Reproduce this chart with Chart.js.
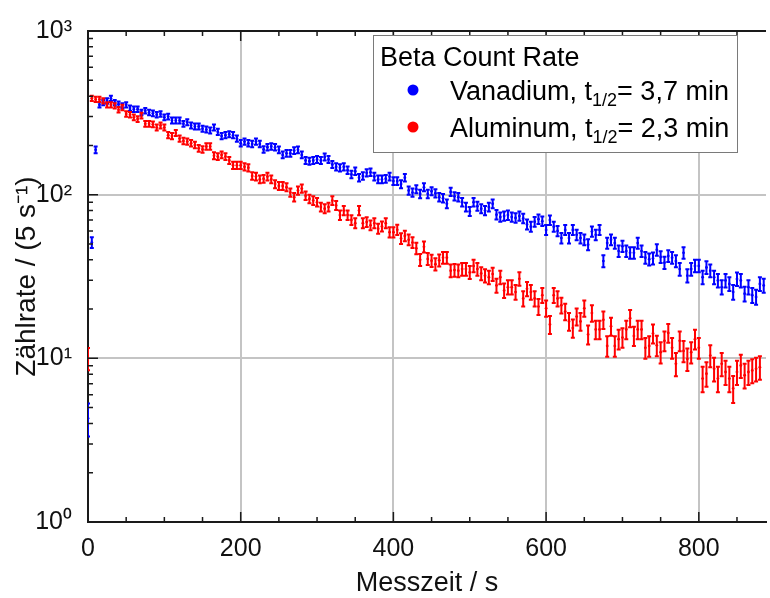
<!DOCTYPE html>
<html>
<head>
<meta charset="utf-8">
<script src="https://cdn.jsdelivr.net/npm/chart.js@4.4.0/dist/chart.umd.min.js"></script>
<style>
    body { margin: 0; background: #fff; }
    #wrap { width: 770px; height: 598px; position: relative; }
</style>
</head>
<body>
<div id="wrap"><canvas id="decayChart" width="770" height="598"></canvas></div>
<script>
// Messzeit in s (one count every 5 s)
const times = [
    0, 5, 10, 15, 20, 25, 30, 35, 40, 45,
    50, 55, 60, 65, 70, 75, 80, 85, 90, 95,
    100, 105, 110, 115, 120, 125, 130, 135, 140, 145,
    150, 155, 160, 165, 170, 175, 180, 185, 190, 195,
    200, 205, 210, 215, 220, 225, 230, 235, 240, 245,
    250, 255, 260, 265, 270, 275, 280, 285, 290, 295,
    300, 305, 310, 315, 320, 325, 330, 335, 340, 345,
    350, 355, 360, 365, 370, 375, 380, 385, 390, 395,
    400, 405, 410, 415, 420, 425, 430, 435, 440, 445,
    450, 455, 460, 465, 470, 475, 480, 485, 490, 495,
    500, 505, 510, 515, 520, 525, 530, 535, 540, 545,
    550, 555, 560, 565, 570, 575, 580, 585, 590, 595,
    600, 605, 610, 615, 620, 625, 630, 635, 640, 645,
    650, 655, 660, 665, 670, 675, 680, 685, 690, 695,
    700, 705, 710, 715, 720, 725, 730, 735, 740, 745,
    750, 755, 760, 765, 770, 775, 780, 785, 790, 795,
    800, 805, 810, 815, 820, 825, 830, 835, 840, 845,
    850, 855, 860, 865, 870, 875, 880, 885
];

// Zählrate Vanadium
const vanadium = [
    4.3, 51, 188, 354, 365, 374, 388, 365, 357, 349,
    354, 338, 333, 333, 318, 326, 318, 314, 308, 311,
    297, 300, 284, 284, 284, 271, 277, 265, 261, 261,
    253, 250, 247, 257, 242, 228, 231, 234, 231, 220,
    206, 211, 206, 204, 211, 204, 189, 195, 197, 195,
    188, 175, 179, 179, 186, 188, 175, 162, 160, 162,
    164, 162, 170, 164, 153, 148, 146, 148, 141, 133,
    139, 127, 130, 136, 137, 129, 124, 124, 125, 129,
    121, 121, 116, 127, 106, 103, 108, 101, 111, 101,
    105, 102, 96.4, 95.1, 88, 104, 97.7, 96.4, 90, 84,
    79, 90, 85, 82, 80, 84, 88, 75.5, 73, 74,
    75, 73, 72, 74, 71.5, 65.8, 63.7, 68.3, 70.8, 68.9,
    60.9, 69.9, 63.7, 60, 54.3, 60.9, 54.3, 60.9, 56.8, 54.3,
    53, 49.5, 59.5, 56.8, 60.9, 39.3, 50.6, 53, 50.6, 45.2,
    48.4, 45.2, 44.1, 44.1, 50.6, 45.2, 41.2, 40.3, 40.8, 46,
    41.6, 38.4, 42.2, 41.2, 39.3, 35.1, 44.1, 32, 35.1, 36.7,
    36.7, 31.3, 35.9, 34.3, 31.3, 29.9, 27.2, 29.9, 28.5, 25.4,
    30.5, 29.9, 24.8, 27.2, 24.3, 23.7, 28.5, 27.9
];

// Zählrate Aluminium
const aluminum = [
    10, 388, 382, 382, 374, 354, 354, 349, 330, 341,
    311, 308, 297, 290, 304, 271, 271, 269, 257, 265,
    257, 231, 228, 238, 220, 213, 211, 206, 201, 192,
    189, 197, 197, 173, 171, 175, 171, 162, 151, 151,
    151, 148, 146, 130, 129, 124, 125, 129, 124, 116,
    113, 113, 111, 103, 96.4, 106, 109, 98.6, 94.2, 92,
    90, 84, 82, 84, 92, 86, 75, 80, 75, 70,
    67, 80, 67, 68, 65, 67, 62, 64, 67, 59,
    59, 61, 54, 56, 53, 51, 47, 40, 48, 40.5,
    39.5, 37.6, 39.7, 41.2, 41.2, 34.3, 34.6, 34.3, 35.1, 35.1,
    33.5, 36.7, 35.1, 33, 32, 31.3, 32.7, 27.9, 31.3, 26,
    27.2, 27.2, 25.4, 30.6, 23.2, 26.6, 25.4, 23.2, 20.7, 24.3,
    20.2, 16.1, 24.3, 23.2, 21.1, 19.3, 16.8, 15.3, 18, 16.8,
    20.2, 14, 18.9, 15, 15, 17.2, 11.9, 15.7, 11.9, 13.1,
    13.4, 15, 17.6, 13.7, 15, 15, 11.6, 11.9, 14.2, 12,
    10.9, 12.8, 14.3, 11.6, 9.25, 12.8, 11.1, 9.9, 10.9, 13.1,
    11.6, 7.52, 8.06, 10.4, 8.63, 7.52, 9.25, 8.25, 7.52, 6.55,
    8.25, 9.04, 7.88, 8.25, 8.44, 8.63, 8.83, null
];

const xTicks = [0, 200, 400, 600, 800];
const yTicks = [1, 10, 100, 1000];
const yTickLabels = ['10\u2070', '10\u00b9', '10\u00b2', '10\u00b3'];

const FONT = "'Liberation Sans', Arial, Helvetica, sans-serif";
const FRAME = '#1a1a1a';
const GRID = '#c4c4c4';

function toPoints(values) {
    const pts = [];
    values.forEach((v, i) => {
        if (v !== null) pts.push({ x: times[i], y: v });
    });
    return pts;
}

// count statistics: rate per 5 s window -> sigma = sqrt(N)/5
function rateError(v) {
    return Math.sqrt(v / 5);
}

const errorBarPlugin = {
    id: 'errorBars',
    afterDatasetsDraw(chart) {
        const ctx = chart.ctx;
        const area = chart.chartArea;
        const yScale = chart.scales.y;
        ctx.save();
        ctx.beginPath();
        ctx.rect(area.left, area.top, area.right - area.left, area.bottom - area.top);
        ctx.clip();
        chart.data.datasets.forEach((ds, di) => {
            const meta = chart.getDatasetMeta(di);
            ctx.strokeStyle = ds.borderColor;
            ctx.lineWidth = 2;
            meta.data.forEach((pt, i) => {
                const v = ds.data[i].y;
                const e = rateError(v);
                const yTop = yScale.getPixelForValue(v + e) - 1;
                const yBot = yScale.getPixelForValue(Math.max(v - e, 0.01)) + 1;
                ctx.beginPath();
                ctx.moveTo(pt.x, yTop);
                ctx.lineTo(pt.x, yBot);
                ctx.moveTo(pt.x - 2, yTop);
                ctx.lineTo(pt.x + 2, yTop);
                ctx.moveTo(pt.x - 2, yBot);
                ctx.lineTo(pt.x + 2, yBot);
                ctx.stroke();
            });
        });
        ctx.restore();
    }
};

const framePlugin = {
    id: 'frameTicks',
    afterDraw(chart) {
        const ctx = chart.ctx;
        const a = chart.chartArea;
        const xs = chart.scales.x;
        const ys = chart.scales.y;
        ctx.save();
        ctx.strokeStyle = FRAME;
        ctx.lineWidth = 2;
        ctx.beginPath();
        ctx.moveTo(a.left - 1, a.top);
        ctx.lineTo(a.right, a.top);
        ctx.stroke();

        ctx.lineWidth = 1.5;
        ctx.beginPath();
        for (let t = 50; t < xs.max; t += 50) {
            const px = xs.getPixelForValue(t);
            const len = t % 200 === 0 ? 10 : 5;
            ctx.moveTo(px, a.bottom);
            ctx.lineTo(px, a.bottom - len);
            ctx.moveTo(px, a.top);
            ctx.lineTo(px, a.top + len);
        }
        for (let dec = 1; dec < 1000; dec *= 10) {
            for (let m = 1; m <= 10; m++) {
                const v = dec * m;
                if (v <= 1 || v >= 1000) continue;
                const py = ys.getPixelForValue(v);
                const len = m === 1 || m === 10 ? 10 : 5;
                ctx.moveTo(a.left, py);
                ctx.lineTo(a.left + len, py);
            }
        }
        ctx.stroke();
        ctx.restore();
    }
};

const legendPlugin = {
    id: 'betaLegend',
    afterDraw(chart) {
        const ctx = chart.ctx;
        const box = { x: 373, y: 35, w: 364, h: 117 };
        ctx.save();
        ctx.fillStyle = '#fff';
        ctx.fillRect(box.x, box.y, box.w, box.h);
        ctx.strokeStyle = '#7a7a7a';
        ctx.lineWidth = 1;
        ctx.strokeRect(box.x + 0.5, box.y + 0.5, box.w, box.h);

        ctx.fillStyle = '#000';
        ctx.textBaseline = 'alphabetic';
        ctx.font = '27px ' + FONT;
        ctx.fillText('Beta Count Rate', box.x + 7, box.y + 31);

        const rows = [
            { color: '#0000ff', name: 'Vanadium, t', half: '1/2', rest: '= 3,7 min', y: box.y + 65 },
            { color: '#ff0000', name: 'Aluminum, t', half: '1/2', rest: '= 2,3 min', y: box.y + 102 }
        ];
        rows.forEach(r => {
            ctx.fillStyle = r.color;
            ctx.beginPath();
            ctx.arc(box.x + 40, r.y - 10, 5.5, 0, Math.PI * 2);
            ctx.fill();

            ctx.fillStyle = '#000';
            let x = box.x + 77;
            ctx.font = '27px ' + FONT;
            ctx.fillText(r.name, x, r.y);
            x += ctx.measureText(r.name).width;
            ctx.font = '18px ' + FONT;
            ctx.fillText(r.half, x, r.y + 6);
            x += ctx.measureText(r.half).width;
            ctx.font = '27px ' + FONT;
            ctx.fillText(r.rest, x, r.y);
        });
        ctx.restore();
    }
};

const chart = new Chart(document.getElementById('decayChart').getContext('2d'), {
    type: 'scatter',
    data: {
        datasets: [{
            label: 'Vanadium',
            data: toPoints(vanadium),
            borderColor: '#0000ff',
            backgroundColor: '#0000ff',
            pointRadius: 1.4,
            pointBorderWidth: 0
        }, {
            label: 'Aluminum',
            data: toPoints(aluminum),
            borderColor: '#ff0000',
            backgroundColor: '#ff0000',
            pointRadius: 1.4,
            pointBorderWidth: 0
        }]
    },
    options: {
        responsive: false,
        animation: false,
        layout: { padding: { top: 21, right: 0, bottom: 0, left: 0 } },
        plugins: {
            legend: { display: false },
            tooltip: { enabled: false }
        },
        scales: {
            x: {
                type: 'linear',
                min: 0,
                max: 888,
                afterBuildTicks: scale => {
                    scale.ticks = xTicks.map(v => ({ value: v }));
                },
                afterFit: scale => { scale.height = 76; },
                grid: {
                    color: c => (c.tick && c.tick.value > 0 ? GRID : 'rgba(0,0,0,0)'),
                    lineWidth: 2,
                    drawTicks: false
                },
                border: { display: true, color: FRAME, width: 2 },
                ticks: {
                    color: '#111',
                    padding: 12,
                    maxRotation: 0,
                    font: { family: FONT, size: 25 }
                },
                title: {
                    display: true,
                    text: 'Messzeit / s',
                    color: '#111',
                    padding: { top: 0, bottom: 0 },
                    font: { family: FONT, size: 27, lineHeight: 1.1 }
                }
            },
            y: {
                type: 'logarithmic',
                min: 1,
                max: 1000,
                afterBuildTicks: scale => {
                    scale.ticks = yTicks.map(v => ({ value: v }));
                },
                afterFit: scale => { scale.width = 88; },
                grid: {
                    color: c => (c.tick && (c.tick.value === 10 || c.tick.value === 100) ? GRID : 'rgba(0,0,0,0)'),
                    lineWidth: 2,
                    drawTicks: false
                },
                border: { display: true, color: FRAME, width: 2 },
                ticks: {
                    color: '#111',
                    padding: 16,
                    font: { family: FONT, size: 25 },
                    callback: value => {
                        const i = yTicks.indexOf(value);
                        return i >= 0 ? yTickLabels[i] : '';
                    }
                },
                title: {
                    display: true,
                    text: 'Zählrate / (5 s\u207b\u00b9)',
                    color: '#111',
                    padding: { top: 10, bottom: 0 },
                    font: { family: FONT, size: 28 }
                }
            }
        }
    },
    plugins: [errorBarPlugin, framePlugin, legendPlugin]
});
</script>
</body>
</html>
